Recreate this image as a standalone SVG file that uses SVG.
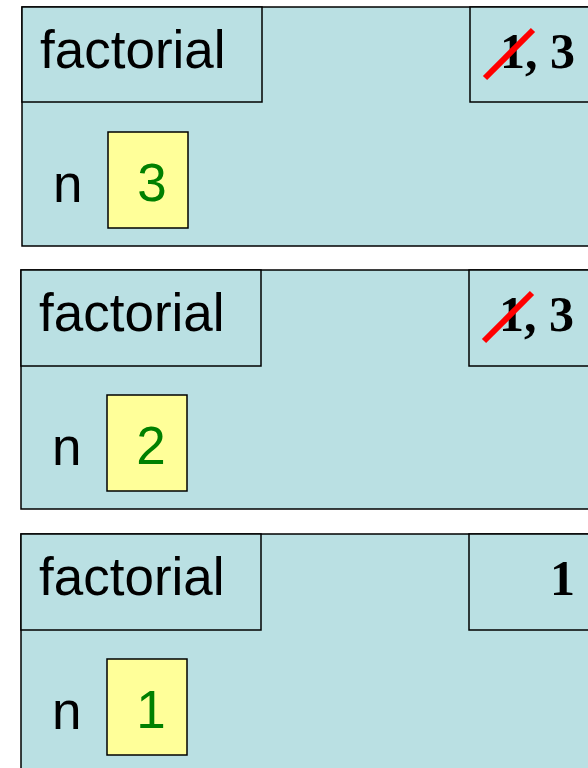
<svg xmlns="http://www.w3.org/2000/svg" width="588" height="768" viewBox="0 0 588 768">
<style>
.frame{fill:#bae0e3;stroke:#000;stroke-width:1.5}
.val{fill:#ffff99;stroke:#000;stroke-width:1.5}
.t{font-family:"Liberation Sans",Arial,sans-serif;font-size:53px;fill:#000}
.g{font-family:"Liberation Sans",Arial,sans-serif;font-size:53px;fill:#008000;text-anchor:middle}
.r{font-family:"Liberation Serif","Times New Roman",serif;font-size:50px;font-weight:bold;fill:#000}
.x{stroke:#ff0000;stroke-width:6}
</style>
<rect width="588" height="768" fill="#fff"/>
<g id="frame1">
<rect class="frame" x="22" y="7" width="580" height="239"/>
<rect class="frame" x="22" y="7" width="240" height="95"/>
<rect class="frame" x="470" y="7" width="130" height="95"/>
<text class="t" x="40" y="68">factorial</text>
<text class="r" x="500" y="68">1, 3</text>
<line class="x" x1="485" y1="78" x2="533" y2="30"/>
<text class="t" x="53" y="202">n</text>
<rect class="val" x="108" y="132" width="80" height="96"/>
<text class="g" x="152" y="201">3</text>
</g>
<g id="frame2">
<rect class="frame" x="21" y="270" width="580" height="239"/>
<rect class="frame" x="21" y="270" width="240" height="96"/>
<rect class="frame" x="469" y="270" width="130" height="96"/>
<text class="t" x="39" y="331">factorial</text>
<text class="r" x="499" y="331">1, 3</text>
<line class="x" x1="484" y1="341" x2="532" y2="293"/>
<text class="t" x="52" y="465">n</text>
<rect class="val" x="107" y="395" width="80" height="96"/>
<text class="g" x="151" y="464">2</text>
</g>
<g id="frame3">
<rect class="frame" x="21" y="534" width="580" height="250"/>
<rect class="frame" x="21" y="534" width="240" height="96"/>
<rect class="frame" x="469" y="534" width="130" height="96"/>
<text class="t" x="39" y="595">factorial</text>
<text class="r" x="550" y="595">1</text>
<text class="t" x="52" y="729">n</text>
<rect class="val" x="107" y="659" width="80" height="96"/>
<text class="g" x="151" y="728">1</text>
</g>
</svg>
